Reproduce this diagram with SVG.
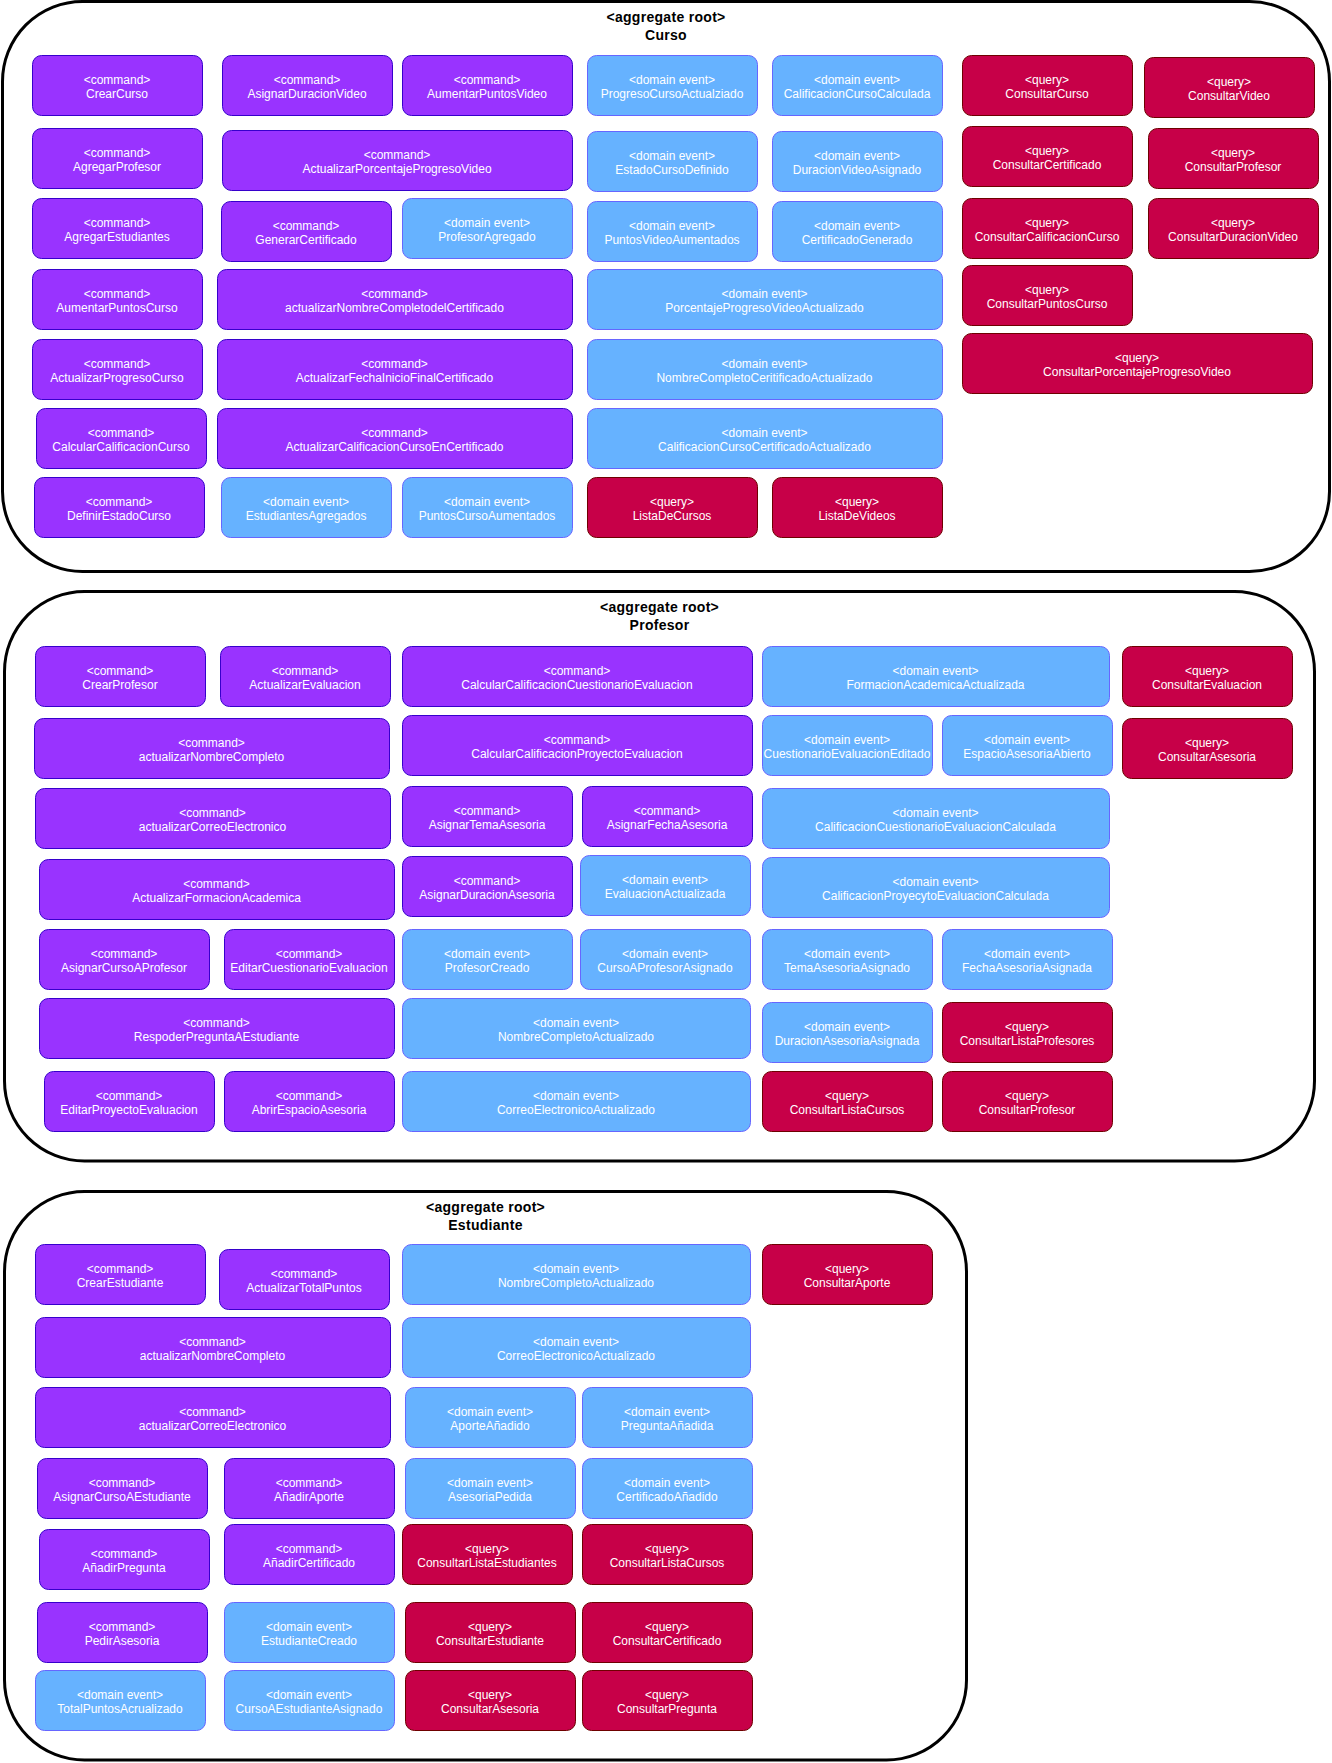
<svg xmlns="http://www.w3.org/2000/svg" width="1332" height="1763" viewBox="0 0 1332 1763">
<style>
.agg rect{fill:#fff;stroke:#000;stroke-width:3}
.agg text{font-family:"Liberation Sans",Arial,sans-serif;font-size:14px;font-weight:bold;fill:#000;text-anchor:middle;letter-spacing:0.3px;transform:translate(0px,1px)}
.n rect{stroke-width:1}
.n text{font-family:"Liberation Sans",Arial,sans-serif;font-size:12px;fill:#fff;text-anchor:middle;transform:translate(0px,1.5px)}
.cmd rect{fill:#9933FF;stroke:#3700CC}
.evt rect{fill:#66B2FF;stroke:#6666FF}
.qry rect{fill:#C70048;stroke:#6F0000}
</style>
<rect width="1332" height="1763" fill="#fff"/>
<g id="agg-curso" class="agg"><rect x="2.5" y="1.5" width="1327" height="570" rx="80"/><text><tspan x="666" y="21">&lt;aggregate root&gt;</tspan><tspan x="666" y="39">Curso</tspan></text></g>
<g id="agg-profesor" class="agg"><rect x="4.5" y="591.5" width="1310" height="569.5" rx="80"/><text><tspan x="659.5" y="611">&lt;aggregate root&gt;</tspan><tspan x="659.5" y="629">Profesor</tspan></text></g>
<g id="agg-estudiante" class="agg"><rect x="4.5" y="1191.5" width="962" height="568.5" rx="80"/><text><tspan x="485.5" y="1211">&lt;aggregate root&gt;</tspan><tspan x="485.5" y="1229">Estudiante</tspan></text></g>
<g id="connectors"/>

<!-- Curso -->
<g id="c-CrearCurso" class="n cmd"><rect x="32.5" y="55.5" width="170" height="60" rx="9"/><text><tspan x="117" y="82">&lt;command&gt;</tspan><tspan x="117" y="96.4">CrearCurso</tspan></text></g>
<g id="c-AsignarDuracionVideo" class="n cmd"><rect x="222.5" y="55.5" width="170" height="60" rx="9"/><text><tspan x="307" y="82">&lt;command&gt;</tspan><tspan x="307" y="96.4">AsignarDuracionVideo</tspan></text></g>
<g id="c-AumentarPuntosVideo" class="n cmd"><rect x="402.5" y="55.5" width="170" height="60" rx="9"/><text><tspan x="487" y="82">&lt;command&gt;</tspan><tspan x="487" y="96.4">AumentarPuntosVideo</tspan></text></g>
<g id="c-AgregarProfesor" class="n cmd"><rect x="32.5" y="128.5" width="170" height="60" rx="9"/><text><tspan x="117" y="155">&lt;command&gt;</tspan><tspan x="117" y="169.4">AgregarProfesor</tspan></text></g>
<g id="c-ActualizarPorcentajeProgresoVideo" class="n cmd"><rect x="222.5" y="130.5" width="350" height="60" rx="9"/><text><tspan x="397" y="157">&lt;command&gt;</tspan><tspan x="397" y="171.4">ActualizarPorcentajeProgresoVideo</tspan></text></g>
<g id="c-AgregarEstudiantes" class="n cmd"><rect x="32.5" y="198.5" width="170" height="60" rx="9"/><text><tspan x="117" y="225">&lt;command&gt;</tspan><tspan x="117" y="239.4">AgregarEstudiantes</tspan></text></g>
<g id="c-GenerarCertificado" class="n cmd"><rect x="221.5" y="201.5" width="170" height="60" rx="9"/><text><tspan x="306" y="228">&lt;command&gt;</tspan><tspan x="306" y="242.4">GenerarCertificado</tspan></text></g>
<g id="c-AumentarPuntosCurso" class="n cmd"><rect x="32.5" y="269.5" width="170" height="60" rx="9"/><text><tspan x="117" y="296">&lt;command&gt;</tspan><tspan x="117" y="310.4">AumentarPuntosCurso</tspan></text></g>
<g id="c-actualizarNombreCompletodelCertificado" class="n cmd"><rect x="217.5" y="269.5" width="355" height="60" rx="9"/><text><tspan x="394.5" y="296">&lt;command&gt;</tspan><tspan x="394.5" y="310.4">actualizarNombreCompletodelCertificado</tspan></text></g>
<g id="c-ActualizarProgresoCurso" class="n cmd"><rect x="32.5" y="339.5" width="170" height="60" rx="9"/><text><tspan x="117" y="366">&lt;command&gt;</tspan><tspan x="117" y="380.4">ActualizarProgresoCurso</tspan></text></g>
<g id="c-ActualizarFechaInicioFinalCertificado" class="n cmd"><rect x="217.5" y="339.5" width="355" height="60" rx="9"/><text><tspan x="394.5" y="366">&lt;command&gt;</tspan><tspan x="394.5" y="380.4">ActualizarFechaInicioFinalCertificado</tspan></text></g>
<g id="c-CalcularCalificacionCurso" class="n cmd"><rect x="36.5" y="408.5" width="170" height="60" rx="9"/><text><tspan x="121" y="435">&lt;command&gt;</tspan><tspan x="121" y="449.4">CalcularCalificacionCurso</tspan></text></g>
<g id="c-ActualizarCalificacionCursoEnCertificado" class="n cmd"><rect x="217.5" y="408.5" width="355" height="60" rx="9"/><text><tspan x="394.5" y="435">&lt;command&gt;</tspan><tspan x="394.5" y="449.4">ActualizarCalificacionCursoEnCertificado</tspan></text></g>
<g id="c-DefinirEstadoCurso" class="n cmd"><rect x="34.5" y="477.5" width="170" height="60" rx="9"/><text><tspan x="119" y="504">&lt;command&gt;</tspan><tspan x="119" y="518.4">DefinirEstadoCurso</tspan></text></g>

<g id="c-ProgresoCursoActualziado" class="n evt"><rect x="587.5" y="55.5" width="170" height="60" rx="9"/><text><tspan x="672" y="82">&lt;domain event&gt;</tspan><tspan x="672" y="96.4">ProgresoCursoActualziado</tspan></text></g>
<g id="c-CalificacionCursoCalculada" class="n evt"><rect x="772.5" y="55.5" width="170" height="60" rx="9"/><text><tspan x="857" y="82">&lt;domain event&gt;</tspan><tspan x="857" y="96.4">CalificacionCursoCalculada</tspan></text></g>
<g id="c-EstadoCursoDefinido" class="n evt"><rect x="587.5" y="131.5" width="170" height="60" rx="9"/><text><tspan x="672" y="158">&lt;domain event&gt;</tspan><tspan x="672" y="172.4">EstadoCursoDefinido</tspan></text></g>
<g id="c-DuracionVideoAsignado" class="n evt"><rect x="772.5" y="131.5" width="170" height="60" rx="9"/><text><tspan x="857" y="158">&lt;domain event&gt;</tspan><tspan x="857" y="172.4">DuracionVideoAsignado</tspan></text></g>
<g id="c-ProfesorAgregado" class="n evt"><rect x="402.5" y="198.5" width="170" height="60" rx="9"/><text><tspan x="487" y="225">&lt;domain event&gt;</tspan><tspan x="487" y="239.4">ProfesorAgregado</tspan></text></g>
<g id="c-PuntosVideoAumentados" class="n evt"><rect x="587.5" y="201.5" width="170" height="60" rx="9"/><text><tspan x="672" y="228">&lt;domain event&gt;</tspan><tspan x="672" y="242.4">PuntosVideoAumentados</tspan></text></g>
<g id="c-CertificadoGenerado" class="n evt"><rect x="772.5" y="201.5" width="170" height="60" rx="9"/><text><tspan x="857" y="228">&lt;domain event&gt;</tspan><tspan x="857" y="242.4">CertificadoGenerado</tspan></text></g>
<g id="c-PorcentajeProgresoVideoActualizado" class="n evt"><rect x="587.5" y="269.5" width="355" height="60" rx="9"/><text><tspan x="764.5" y="296">&lt;domain event&gt;</tspan><tspan x="764.5" y="310.4">PorcentajeProgresoVideoActualizado</tspan></text></g>
<g id="c-NombreCompletoCeritificadoActualizado" class="n evt"><rect x="587.5" y="339.5" width="355" height="60" rx="9"/><text><tspan x="764.5" y="366">&lt;domain event&gt;</tspan><tspan x="764.5" y="380.4">NombreCompletoCeritificadoActualizado</tspan></text></g>
<g id="c-CalificacionCursoCertificadoActualizado" class="n evt"><rect x="587.5" y="408.5" width="355" height="60" rx="9"/><text><tspan x="764.5" y="435">&lt;domain event&gt;</tspan><tspan x="764.5" y="449.4">CalificacionCursoCertificadoActualizado</tspan></text></g>
<g id="c-EstudiantesAgregados" class="n evt"><rect x="221.5" y="477.5" width="170" height="60" rx="9"/><text><tspan x="306" y="504">&lt;domain event&gt;</tspan><tspan x="306" y="518.4">EstudiantesAgregados</tspan></text></g>
<g id="c-PuntosCursoAumentados" class="n evt"><rect x="402.5" y="477.5" width="170" height="60" rx="9"/><text><tspan x="487" y="504">&lt;domain event&gt;</tspan><tspan x="487" y="518.4">PuntosCursoAumentados</tspan></text></g>

<g id="c-ConsultarCurso" class="n qry"><rect x="962.5" y="55.5" width="170" height="60" rx="9"/><text><tspan x="1047" y="82">&lt;query&gt;</tspan><tspan x="1047" y="96.4">ConsultarCurso</tspan></text></g>
<g id="c-ConsultarVideo" class="n qry"><rect x="1144.5" y="57.5" width="170" height="60" rx="9"/><text><tspan x="1229" y="84">&lt;query&gt;</tspan><tspan x="1229" y="98.4">ConsultarVideo</tspan></text></g>
<g id="c-ConsultarCertificado" class="n qry"><rect x="962.5" y="126.5" width="170" height="60" rx="9"/><text><tspan x="1047" y="153">&lt;query&gt;</tspan><tspan x="1047" y="167.4">ConsultarCertificado</tspan></text></g>
<g id="c-ConsultarProfesor" class="n qry"><rect x="1148.5" y="128.5" width="170" height="60" rx="9"/><text><tspan x="1233" y="155">&lt;query&gt;</tspan><tspan x="1233" y="169.4">ConsultarProfesor</tspan></text></g>
<g id="c-ConsultarCalificacionCurso" class="n qry"><rect x="962.5" y="198.5" width="170" height="60" rx="9"/><text><tspan x="1047" y="225">&lt;query&gt;</tspan><tspan x="1047" y="239.4">ConsultarCalificacionCurso</tspan></text></g>
<g id="c-ConsultarDuracionVideo" class="n qry"><rect x="1148.5" y="198.5" width="170" height="60" rx="9"/><text><tspan x="1233" y="225">&lt;query&gt;</tspan><tspan x="1233" y="239.4">ConsultarDuracionVideo</tspan></text></g>
<g id="c-ConsultarPuntosCurso" class="n qry"><rect x="962.5" y="265.5" width="170" height="60" rx="9"/><text><tspan x="1047" y="292">&lt;query&gt;</tspan><tspan x="1047" y="306.4">ConsultarPuntosCurso</tspan></text></g>
<g id="c-ConsultarPorcentajeProgresoVideo" class="n qry"><rect x="962.5" y="333.5" width="350" height="60" rx="9"/><text><tspan x="1137" y="360">&lt;query&gt;</tspan><tspan x="1137" y="374.4">ConsultarPorcentajeProgresoVideo</tspan></text></g>
<g id="c-ListaDeCursos" class="n qry"><rect x="587.5" y="477.5" width="170" height="60" rx="9"/><text><tspan x="672" y="504">&lt;query&gt;</tspan><tspan x="672" y="518.4">ListaDeCursos</tspan></text></g>
<g id="c-ListaDeVideos" class="n qry"><rect x="772.5" y="477.5" width="170" height="60" rx="9"/><text><tspan x="857" y="504">&lt;query&gt;</tspan><tspan x="857" y="518.4">ListaDeVideos</tspan></text></g>

<!-- Profesor -->
<g id="p-CrearProfesor" class="n cmd"><rect x="35.5" y="646.5" width="170" height="60" rx="9"/><text><tspan x="120" y="673">&lt;command&gt;</tspan><tspan x="120" y="687.4">CrearProfesor</tspan></text></g>
<g id="p-ActualizarEvaluacion" class="n cmd"><rect x="220.5" y="646.5" width="170" height="60" rx="9"/><text><tspan x="305" y="673">&lt;command&gt;</tspan><tspan x="305" y="687.4">ActualizarEvaluacion</tspan></text></g>
<g id="p-CalcularCalificacionCuestionarioEvaluacion" class="n cmd"><rect x="402.5" y="646.5" width="350" height="60" rx="9"/><text><tspan x="577" y="673">&lt;command&gt;</tspan><tspan x="577" y="687.4">CalcularCalificacionCuestionarioEvaluacion</tspan></text></g>
<g id="p-actualizarNombreCompleto" class="n cmd"><rect x="34.5" y="718.5" width="355" height="60" rx="9"/><text><tspan x="211.5" y="745">&lt;command&gt;</tspan><tspan x="211.5" y="759.4">actualizarNombreCompleto</tspan></text></g>
<g id="p-CalcularCalificacionProyectoEvaluacion" class="n cmd"><rect x="402.5" y="715.5" width="350" height="60" rx="9"/><text><tspan x="577" y="742">&lt;command&gt;</tspan><tspan x="577" y="756.4">CalcularCalificacionProyectoEvaluacion</tspan></text></g>
<g id="p-actualizarCorreoElectronico" class="n cmd"><rect x="35.5" y="788.5" width="355" height="60" rx="9"/><text><tspan x="212.5" y="815">&lt;command&gt;</tspan><tspan x="212.5" y="829.4">actualizarCorreoElectronico</tspan></text></g>
<g id="p-AsignarTemaAsesoria" class="n cmd"><rect x="402.5" y="786.5" width="170" height="60" rx="9"/><text><tspan x="487" y="813">&lt;command&gt;</tspan><tspan x="487" y="827.4">AsignarTemaAsesoria</tspan></text></g>
<g id="p-AsignarFechaAsesoria" class="n cmd"><rect x="582.5" y="786.5" width="170" height="60" rx="9"/><text><tspan x="667" y="813">&lt;command&gt;</tspan><tspan x="667" y="827.4">AsignarFechaAsesoria</tspan></text></g>
<g id="p-ActualizarFormacionAcademica" class="n cmd"><rect x="39.5" y="859.5" width="355" height="60" rx="9"/><text><tspan x="216.5" y="886">&lt;command&gt;</tspan><tspan x="216.5" y="900.4">ActualizarFormacionAcademica</tspan></text></g>
<g id="p-AsignarDuracionAsesoria" class="n cmd"><rect x="402.5" y="856.5" width="170" height="60" rx="9"/><text><tspan x="487" y="883">&lt;command&gt;</tspan><tspan x="487" y="897.4">AsignarDuracionAsesoria</tspan></text></g>
<g id="p-AsignarCursoAProfesor" class="n cmd"><rect x="39.5" y="929.5" width="170" height="60" rx="9"/><text><tspan x="124" y="956">&lt;command&gt;</tspan><tspan x="124" y="970.4">AsignarCursoAProfesor</tspan></text></g>
<g id="p-EditarCuestionarioEvaluacion" class="n cmd"><rect x="224.5" y="929.5" width="170" height="60" rx="9"/><text><tspan x="309" y="956">&lt;command&gt;</tspan><tspan x="309" y="970.4">EditarCuestionarioEvaluacion</tspan></text></g>
<g id="p-RespoderPreguntaAEstudiante" class="n cmd"><rect x="39.5" y="998.5" width="355" height="60" rx="9"/><text><tspan x="216.5" y="1025">&lt;command&gt;</tspan><tspan x="216.5" y="1039.4">RespoderPreguntaAEstudiante</tspan></text></g>
<g id="p-EditarProyectoEvaluacion" class="n cmd"><rect x="44.5" y="1071.5" width="170" height="60" rx="9"/><text><tspan x="129" y="1098">&lt;command&gt;</tspan><tspan x="129" y="1112.4">EditarProyectoEvaluacion</tspan></text></g>
<g id="p-AbrirEspacioAsesoria" class="n cmd"><rect x="224.5" y="1071.5" width="170" height="60" rx="9"/><text><tspan x="309" y="1098">&lt;command&gt;</tspan><tspan x="309" y="1112.4">AbrirEspacioAsesoria</tspan></text></g>

<g id="p-FormacionAcademicaActualizada" class="n evt"><rect x="762.5" y="646.5" width="347" height="60" rx="9"/><text><tspan x="935.5" y="673">&lt;domain event&gt;</tspan><tspan x="935.5" y="687.4">FormacionAcademicaActualizada</tspan></text></g>
<g id="p-CuestionarioEvaluacionEditado" class="n evt"><rect x="762.5" y="715.5" width="170" height="60" rx="9"/><text><tspan x="847" y="742">&lt;domain event&gt;</tspan><tspan x="847" y="756.4">CuestionarioEvaluacionEditado</tspan></text></g>
<g id="p-EspacioAsesoriaAbierto" class="n evt"><rect x="942.5" y="715.5" width="170" height="60" rx="9"/><text><tspan x="1027" y="742">&lt;domain event&gt;</tspan><tspan x="1027" y="756.4">EspacioAsesoriaAbierto</tspan></text></g>
<g id="p-CalificacionCuestionarioEvaluacionCalculada" class="n evt"><rect x="762.5" y="788.5" width="347" height="60" rx="9"/><text><tspan x="935.5" y="815">&lt;domain event&gt;</tspan><tspan x="935.5" y="829.4">CalificacionCuestionarioEvaluacionCalculada</tspan></text></g>
<g id="p-CalificacionProyecytoEvaluacionCalculada" class="n evt"><rect x="762.5" y="857.5" width="347" height="60" rx="9"/><text><tspan x="935.5" y="884">&lt;domain event&gt;</tspan><tspan x="935.5" y="898.4">CalificacionProyecytoEvaluacionCalculada</tspan></text></g>
<g id="p-EvaluacionActualizada" class="n evt"><rect x="580.5" y="855.5" width="170" height="60" rx="9"/><text><tspan x="665" y="882">&lt;domain event&gt;</tspan><tspan x="665" y="896.4">EvaluacionActualizada</tspan></text></g>
<g id="p-ProfesorCreado" class="n evt"><rect x="402.5" y="929.5" width="170" height="60" rx="9"/><text><tspan x="487" y="956">&lt;domain event&gt;</tspan><tspan x="487" y="970.4">ProfesorCreado</tspan></text></g>
<g id="p-CursoAProfesorAsignado" class="n evt"><rect x="580.5" y="929.5" width="170" height="60" rx="9"/><text><tspan x="665" y="956">&lt;domain event&gt;</tspan><tspan x="665" y="970.4">CursoAProfesorAsignado</tspan></text></g>
<g id="p-NombreCompletoActualizado" class="n evt"><rect x="402.5" y="998.5" width="348" height="60" rx="9"/><text><tspan x="576" y="1025">&lt;domain event&gt;</tspan><tspan x="576" y="1039.4">NombreCompletoActualizado</tspan></text></g>
<g id="p-CorreoElectronicoActualizado" class="n evt"><rect x="402.5" y="1071.5" width="348" height="60" rx="9"/><text><tspan x="576" y="1098">&lt;domain event&gt;</tspan><tspan x="576" y="1112.4">CorreoElectronicoActualizado</tspan></text></g>
<g id="p-TemaAsesoriaAsignado" class="n evt"><rect x="762.5" y="929.5" width="170" height="60" rx="9"/><text><tspan x="847" y="956">&lt;domain event&gt;</tspan><tspan x="847" y="970.4">TemaAsesoriaAsignado</tspan></text></g>
<g id="p-FechaAsesoriaAsignada" class="n evt"><rect x="942.5" y="929.5" width="170" height="60" rx="9"/><text><tspan x="1027" y="956">&lt;domain event&gt;</tspan><tspan x="1027" y="970.4">FechaAsesoriaAsignada</tspan></text></g>
<g id="p-DuracionAsesoriaAsignada" class="n evt"><rect x="762.5" y="1002.5" width="170" height="60" rx="9"/><text><tspan x="847" y="1029">&lt;domain event&gt;</tspan><tspan x="847" y="1043.4">DuracionAsesoriaAsignada</tspan></text></g>

<g id="p-ConsultarEvaluacion" class="n qry"><rect x="1122.5" y="646.5" width="170" height="60" rx="9"/><text><tspan x="1207" y="673">&lt;query&gt;</tspan><tspan x="1207" y="687.4">ConsultarEvaluacion</tspan></text></g>
<g id="p-ConsultarAsesoria" class="n qry"><rect x="1122.5" y="718.5" width="170" height="60" rx="9"/><text><tspan x="1207" y="745">&lt;query&gt;</tspan><tspan x="1207" y="759.4">ConsultarAsesoria</tspan></text></g>
<g id="p-ConsultarListaProfesores" class="n qry"><rect x="942.5" y="1002.5" width="170" height="60" rx="9"/><text><tspan x="1027" y="1029">&lt;query&gt;</tspan><tspan x="1027" y="1043.4">ConsultarListaProfesores</tspan></text></g>
<g id="p-ConsultarListaCursos" class="n qry"><rect x="762.5" y="1071.5" width="170" height="60" rx="9"/><text><tspan x="847" y="1098">&lt;query&gt;</tspan><tspan x="847" y="1112.4">ConsultarListaCursos</tspan></text></g>
<g id="p-ConsultarProfesor" class="n qry"><rect x="942.5" y="1071.5" width="170" height="60" rx="9"/><text><tspan x="1027" y="1098">&lt;query&gt;</tspan><tspan x="1027" y="1112.4">ConsultarProfesor</tspan></text></g>

<!-- Estudiante -->
<g id="e-CrearEstudiante" class="n cmd"><rect x="35.5" y="1244.5" width="170" height="60" rx="9"/><text><tspan x="120" y="1271">&lt;command&gt;</tspan><tspan x="120" y="1285.4">CrearEstudiante</tspan></text></g>
<g id="e-ActualizarTotalPuntos" class="n cmd"><rect x="219.5" y="1249.5" width="170" height="60" rx="9"/><text><tspan x="304" y="1276">&lt;command&gt;</tspan><tspan x="304" y="1290.4">ActualizarTotalPuntos</tspan></text></g>
<g id="e-actualizarNombreCompleto" class="n cmd"><rect x="35.5" y="1317.5" width="355" height="60" rx="9"/><text><tspan x="212.5" y="1344">&lt;command&gt;</tspan><tspan x="212.5" y="1358.4">actualizarNombreCompleto</tspan></text></g>
<g id="e-actualizarCorreoElectronico" class="n cmd"><rect x="35.5" y="1387.5" width="355" height="60" rx="9"/><text><tspan x="212.5" y="1414">&lt;command&gt;</tspan><tspan x="212.5" y="1428.4">actualizarCorreoElectronico</tspan></text></g>
<g id="e-AsignarCursoAEstudiante" class="n cmd"><rect x="37.5" y="1458.5" width="170" height="60" rx="9"/><text><tspan x="122" y="1485">&lt;command&gt;</tspan><tspan x="122" y="1499.4">AsignarCursoAEstudiante</tspan></text></g>
<g id="e-AnadirAporte" class="n cmd"><rect x="224.5" y="1458.5" width="170" height="60" rx="9"/><text><tspan x="309" y="1485">&lt;command&gt;</tspan><tspan x="309" y="1499.4">AñadirAporte</tspan></text></g>
<g id="e-AnadirPregunta" class="n cmd"><rect x="39.5" y="1529.5" width="170" height="60" rx="9"/><text><tspan x="124" y="1556">&lt;command&gt;</tspan><tspan x="124" y="1570.4">AñadirPregunta</tspan></text></g>
<g id="e-AnadirCertificado" class="n cmd"><rect x="224.5" y="1524.5" width="170" height="60" rx="9"/><text><tspan x="309" y="1551">&lt;command&gt;</tspan><tspan x="309" y="1565.4">AñadirCertificado</tspan></text></g>
<g id="e-PedirAsesoria" class="n cmd"><rect x="37.5" y="1602.5" width="170" height="60" rx="9"/><text><tspan x="122" y="1629">&lt;command&gt;</tspan><tspan x="122" y="1643.4">PedirAsesoria</tspan></text></g>

<g id="e-NombreCompletoActualizado" class="n evt"><rect x="402.5" y="1244.5" width="348" height="60" rx="9"/><text><tspan x="576" y="1271">&lt;domain event&gt;</tspan><tspan x="576" y="1285.4">NombreCompletoActualizado</tspan></text></g>
<g id="e-CorreoElectronicoActualizado" class="n evt"><rect x="402.5" y="1317.5" width="348" height="60" rx="9"/><text><tspan x="576" y="1344">&lt;domain event&gt;</tspan><tspan x="576" y="1358.4">CorreoElectronicoActualizado</tspan></text></g>
<g id="e-AporteAnadido" class="n evt"><rect x="405.5" y="1387.5" width="170" height="60" rx="9"/><text><tspan x="490" y="1414">&lt;domain event&gt;</tspan><tspan x="490" y="1428.4">AporteAñadido</tspan></text></g>
<g id="e-PreguntaAnadida" class="n evt"><rect x="582.5" y="1387.5" width="170" height="60" rx="9"/><text><tspan x="667" y="1414">&lt;domain event&gt;</tspan><tspan x="667" y="1428.4">PreguntaAñadida</tspan></text></g>
<g id="e-AsesoriaPedida" class="n evt"><rect x="405.5" y="1458.5" width="170" height="60" rx="9"/><text><tspan x="490" y="1485">&lt;domain event&gt;</tspan><tspan x="490" y="1499.4">AsesoriaPedida</tspan></text></g>
<g id="e-CertificadoAnadido" class="n evt"><rect x="582.5" y="1458.5" width="170" height="60" rx="9"/><text><tspan x="667" y="1485">&lt;domain event&gt;</tspan><tspan x="667" y="1499.4">CertificadoAñadido</tspan></text></g>
<g id="e-EstudianteCreado" class="n evt"><rect x="224.5" y="1602.5" width="170" height="60" rx="9"/><text><tspan x="309" y="1629">&lt;domain event&gt;</tspan><tspan x="309" y="1643.4">EstudianteCreado</tspan></text></g>
<g id="e-TotalPuntosAcrualizado" class="n evt"><rect x="35.5" y="1670.5" width="170" height="60" rx="9"/><text><tspan x="120" y="1697">&lt;domain event&gt;</tspan><tspan x="120" y="1711.4">TotalPuntosAcrualizado</tspan></text></g>
<g id="e-CursoAEstudianteAsignado" class="n evt"><rect x="224.5" y="1670.5" width="170" height="60" rx="9"/><text><tspan x="309" y="1697">&lt;domain event&gt;</tspan><tspan x="309" y="1711.4">CursoAEstudianteAsignado</tspan></text></g>

<g id="e-ConsultarAporte" class="n qry"><rect x="762.5" y="1244.5" width="170" height="60" rx="9"/><text><tspan x="847" y="1271">&lt;query&gt;</tspan><tspan x="847" y="1285.4">ConsultarAporte</tspan></text></g>
<g id="e-ConsultarListaEstudiantes" class="n qry"><rect x="402.5" y="1524.5" width="170" height="60" rx="9"/><text><tspan x="487" y="1551">&lt;query&gt;</tspan><tspan x="487" y="1565.4">ConsultarListaEstudiantes</tspan></text></g>
<g id="e-ConsultarListaCursos" class="n qry"><rect x="582.5" y="1524.5" width="170" height="60" rx="9"/><text><tspan x="667" y="1551">&lt;query&gt;</tspan><tspan x="667" y="1565.4">ConsultarListaCursos</tspan></text></g>
<g id="e-ConsultarEstudiante" class="n qry"><rect x="405.5" y="1602.5" width="170" height="60" rx="9"/><text><tspan x="490" y="1629">&lt;query&gt;</tspan><tspan x="490" y="1643.4">ConsultarEstudiante</tspan></text></g>
<g id="e-ConsultarCertificado" class="n qry"><rect x="582.5" y="1602.5" width="170" height="60" rx="9"/><text><tspan x="667" y="1629">&lt;query&gt;</tspan><tspan x="667" y="1643.4">ConsultarCertificado</tspan></text></g>
<g id="e-ConsultarAsesoria" class="n qry"><rect x="405.5" y="1670.5" width="170" height="60" rx="9"/><text><tspan x="490" y="1697">&lt;query&gt;</tspan><tspan x="490" y="1711.4">ConsultarAsesoria</tspan></text></g>
<g id="e-ConsultarPregunta" class="n qry"><rect x="582.5" y="1670.5" width="170" height="60" rx="9"/><text><tspan x="667" y="1697">&lt;query&gt;</tspan><tspan x="667" y="1711.4">ConsultarPregunta</tspan></text></g>
</svg>
